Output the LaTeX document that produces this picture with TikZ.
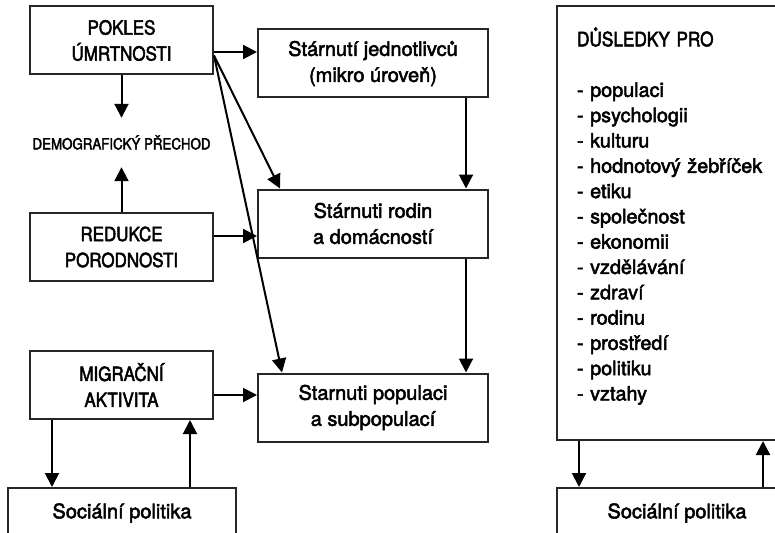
\documentclass[tikz,border=0pt]{standalone}
\usepackage{fontspec}
\setmainfont{TeX Gyre Heros}[FakeBold=2.5]
\newfontfamily\capsfont{TeX Gyre Heros}[FakeBold=2.5, FakeStretch=0.87]
\usetikzlibrary{arrows.meta}
\tikzstyle{box} = [rectangle, draw=black!85, line width=2pt, align=center, inner sep=0pt, font=\fontsize{20}{26}\selectfont]
\tikzstyle{smallbox} = [box, minimum width=183pt, minimum height=68pt, font=\capsfont\fontsize{19.5}{26}\selectfont]
\tikzstyle{midbox} = [box, minimum width=230pt, minimum height=68pt]
\tikzstyle{arr} = [-{Triangle[length=14pt,width=14pt]}, line width=2pt, draw=black]

\begin{document}
\begin{tikzpicture}[x=1pt, y=-1pt]
\clip (0,0) rectangle (775,532);
\fill[white] (0,0) rectangle (775,532);

% left column
\node (pokles) [smallbox] at (121.5,40.5) {POKLES\\ÚMRTNOSTI};
\node (demog) [font=\capsfont\fontsize{15.3}{18}\selectfont, minimum height=49pt, inner sep=0pt] at (121.5,142.5) {DEMOGRAFICKÝ PŘECHOD};
\node (redukce) [smallbox] at (121.5,247) {REDUKCE\\PORODNOSTI};
\node (migrace) [smallbox] at (121.5,385) {MIGRAČNÍ\\AKTIVITA};
\node (socL) [box, minimum width=228pt, minimum height=50pt] at (122,513) {Sociální politika};

% middle column
\node (jedn) [midbox] at (373,63.5) {Stárnutí jednotlivců\\(mikro úroveň)};
\node (rodin) [midbox] at (373,223.5) {Stárnuti rodin\\a domácností};
\node (popul) [midbox] at (373,407.5) {Starnuti populaci\\a subpopulací};

% right column
\node (dusledky) [box, align=left, text width=200pt, inner xsep=20pt, minimum height=434pt, font=\fontsize{19.8}{25.3}\selectfont] at (677,223) {{\capsfont DŮSLEDKY PRO}\\[25.3pt]
- populaci\\ - psychologii\\ - kulturu\\ - hodnotový žebříček\\ - etiku\\ - společnost\\ - ekonomii\\
- vzdělávání\\ - zdraví\\ - rodinu\\ - prostředí\\ - politiku\\ - vztahy\\[-7pt]\mbox{}};
\node (socR) [box, minimum width=240pt, minimum height=50pt] at (677,513) {Sociální politika};

% arrows
\draw[arr] (pokles.south) -- (demog.north);
\draw[arr] (redukce.north) -- (demog.south);
\draw[arr] ([yshift=-11.5pt]pokles.east) -- ([yshift=-11.5pt]pokles.east -| jedn.west);
\draw[arr] ([yshift=-15pt]pokles.east) -- ([xshift=-93pt]rodin.north);
\draw[arr] ([yshift=-15pt]pokles.east) -- ([xshift=-91pt]popul.north);
\draw[arr] ([yshift=11pt]redukce.east) -- ([yshift=11pt]redukce.east -| rodin.west);
\draw[arr] ([yshift=-10pt]migrace.east) -- ([yshift=-10pt]migrace.east -| popul.west);
\draw[arr] ([xshift=93pt]jedn.south) -- ([xshift=93pt]rodin.north);
\draw[arr] ([xshift=93pt]rodin.south) -- ([xshift=93pt]popul.north);
\draw[arr] ([xshift=-69.5pt]migrace.south) -- ([xshift=-69.5pt]migrace.south |- socL.north);
\draw[arr] ([xshift=68.5pt]migrace.south |- socL.north) -- ([xshift=68.5pt]migrace.south);
\draw[arr] ([xshift=-98pt]dusledky.south) -- ([xshift=-98pt]dusledky.south |- socR.north);
\draw[arr] ([xshift=86pt]dusledky.south |- socR.north) -- ([xshift=86pt]dusledky.south);

\end{tikzpicture}
\end{document}
